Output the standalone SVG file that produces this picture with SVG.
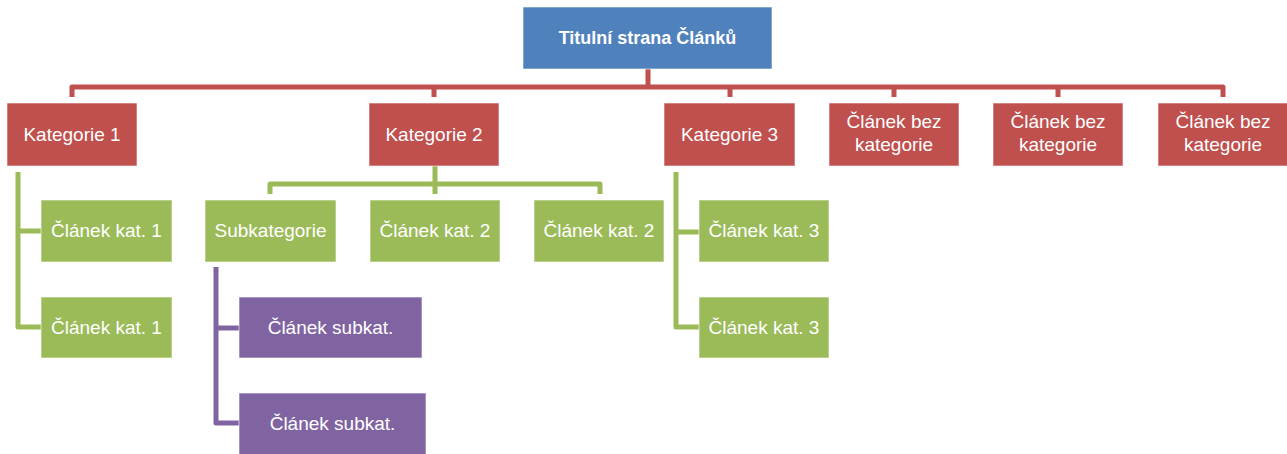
<svg xmlns="http://www.w3.org/2000/svg" width="1287" height="454" viewBox="0 0 1287 454">
<style>
.box{stroke:#ffffff;stroke-opacity:0.6;stroke-width:1}
.blue{fill:#4F81BD}
.red{fill:#C0504D}
.green{fill:#9BBB59}
.purple{fill:#8064A2}
.t{font-family:"Liberation Sans",Arial,sans-serif;font-size:19px;fill:#ffffff;text-anchor:middle}
.tb{font-family:"Liberation Sans",Arial,sans-serif;font-size:18px;font-weight:bold;fill:#ffffff;text-anchor:middle}
.c{fill:none;stroke-width:5;stroke-linejoin:round;stroke-linecap:butt}
.cr{stroke:#C0504D}
.cg{stroke:#9BBB59}
.cp{stroke:#8064A2}
</style>
<rect width="1287" height="454" fill="#ffffff"/>
<g id="connectors">
<path class="c cr" d="M648,69 V87"/>
<path class="c cr" d="M72,97 V87 H1223 V97"/>
<path class="c cr" d="M434,87 V97 M730,87 V97 M894,87 V97 M1058,87 V97"/>
<path class="c cg" d="M18,172 V327 H41 M18,231 H41"/>
<path class="c cg" d="M435,166 V194 M270,194 V184 H600 V194"/>
<path class="c cg" d="M676,172 V327 H699 M676,232 H699"/>
<path class="c cp" d="M216,267 V423 H239 M216,328 H239"/>
</g>
<g id="root"><rect class="box blue" x="523" y="7" width="249" height="62"/><text class="tb" x="647.5" y="44">Titulní strana Článků</text></g>
<g id="kat1"><rect class="box red" x="7" y="103" width="130" height="63"/><text class="t" x="72" y="141">Kategorie 1</text></g>
<g id="kat2"><rect class="box red" x="369" y="103" width="130" height="63"/><text class="t" x="434" y="141">Kategorie 2</text></g>
<g id="kat3"><rect class="box red" x="664" y="103" width="131" height="63"/><text class="t" x="729.5" y="141">Kategorie 3</text></g>
<g id="bez1"><rect class="box red" x="829" y="103" width="130" height="63"/><text class="t" x="894" y="128">Článek bez</text><text class="t" x="894" y="151">kategorie</text></g>
<g id="bez2"><rect class="box red" x="993" y="103" width="130" height="63"/><text class="t" x="1058" y="128">Článek bez</text><text class="t" x="1058" y="151">kategorie</text></g>
<g id="bez3"><rect class="box red" x="1158" y="103" width="130" height="63"/><text class="t" x="1223" y="128">Článek bez</text><text class="t" x="1223" y="151">kategorie</text></g>
<g id="k1a"><rect class="box green" x="41" y="200" width="131" height="62"/><text class="t" x="106.5" y="237">Článek kat. 1</text></g>
<g id="k1b"><rect class="box green" x="41" y="297" width="131" height="61"/><text class="t" x="106.5" y="334">Článek kat. 1</text></g>
<g id="sub"><rect class="box green" x="205" y="200" width="131" height="62"/><text class="t" x="270.5" y="237">Subkategorie</text></g>
<g id="k2a"><rect class="box green" x="370" y="200" width="130" height="62"/><text class="t" x="435" y="237">Článek kat. 2</text></g>
<g id="k2b"><rect class="box green" x="534" y="200" width="130" height="62"/><text class="t" x="599" y="237">Článek kat. 2</text></g>
<g id="k3a"><rect class="box green" x="699" y="200" width="130" height="62"/><text class="t" x="764" y="237">Článek kat. 3</text></g>
<g id="k3b"><rect class="box green" x="699" y="297" width="130" height="61"/><text class="t" x="764" y="334">Článek kat. 3</text></g>
<g id="sa"><rect class="box purple" x="239" y="297" width="183" height="61"/><text class="t" x="330.5" y="334">Článek subkat.</text></g>
<g id="sb"><rect class="box purple" x="239" y="393" width="187" height="62"/><text class="t" x="332.5" y="430">Článek subkat.</text></g>
</svg>
